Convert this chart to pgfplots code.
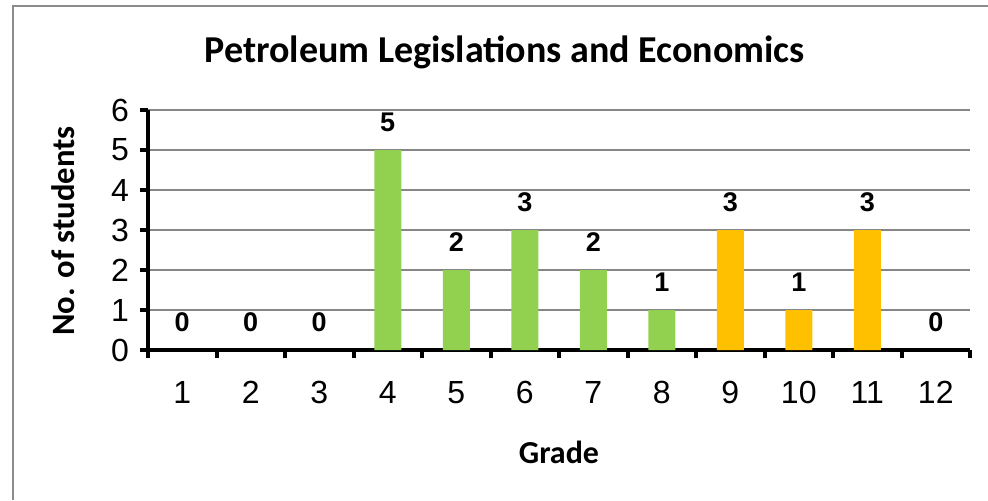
\documentclass[border=0pt]{standalone}
\usepackage{pgfplots}
\pgfplotsset{compat=1.18}
\usepackage{fontspec}
\setmainfont{Liberation Sans}
\newfontfamily\calibri{Carlito}
\definecolor{bargreen}{HTML}{92D050}
\definecolor{barorange}{HTML}{FFC000}
\definecolor{gridgray}{RGB}{134,134,134}
\definecolor{framegray}{RGB}{140,140,140}
\begin{document}
\begin{tikzpicture}
\useasboundingbox (0,0) rectangle (494pt,250pt);
\draw[framegray, line width=1.2pt] (6.5pt,0) -- (6.5pt,247pt) -- (494pt,247pt);
\begin{axis}[
  at={(74pt,75pt)}, anchor=south west,
  scale only axis, width=411pt, height=120pt,
  xmin=0.5, xmax=12.5, ymin=0, ymax=6,
  axis x line=bottom, axis y line=left,
  axis line style={-, line width=2pt, black},
  xtick={1,...,12},
  minor xtick={0.5,1.5,...,12.5},
  major x tick style={draw=none},
  minor x tick style={line width=2pt, black},
  ytick={0,...,6},
  y tick style={line width=2pt, black},
  tick align=outside,
  major tick length=4pt, minor tick length=4pt,
  ymajorgrids, grid style={gridgray, line width=0.6pt},
  /pgf/number format/assume math mode=true,
  tick label style={font=\fontsize{16}{18}\selectfont},
  xticklabel style={yshift=-8pt},
  yticklabel style={xshift=-2pt},
  ybar, bar width=13.5pt, bar shift=0pt,
  nodes near coords,
  every node near coord/.style={font=\fontsize{13.5}{15}\selectfont\bfseries, anchor=center, yshift=14pt, black},
  title={\calibri\bfseries Petroleum Legislations and Economics},
  title style={font=\fontsize{19}{22}\selectfont, at={(axis description cs:0.434,1.192)}, anchor=center},
  xlabel={\calibri\bfseries Grade},
  xlabel style={font=\fontsize{16}{18}\selectfont, at={(axis description cs:0.5,-0.425)}, anchor=center},
  ylabel={\calibri\bfseries No. of students},
  ylabel style={font=\fontsize{16.3}{18}\selectfont, at={(axis description cs:-0.103,0.496)}, anchor=center, rotate=0},
  clip=false,
]
\addplot[draw=none, fill=none] coordinates {(1,0) (2,0) (3,0) (12,0)};
\addplot[draw=none, fill=bargreen] coordinates {(4,5) (5,2) (6,3) (7,2) (8,1)};
\addplot[draw=none, fill=barorange] coordinates {(9,3) (10,1) (11,3)};
\end{axis}
\end{tikzpicture}
\end{document}
